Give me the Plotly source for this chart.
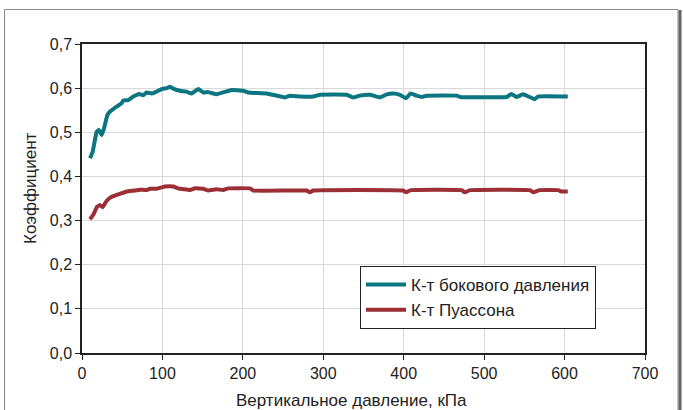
import plotly.graph_objects as go

# Data
x_lat = [10, 13.3, 18.2, 21, 24.4, 27.4, 31.5, 34.8, 43, 49.3, 51.4, 57.6, 63.8, 71.3, 76.3, 80.4,
         86.6, 92.8, 99, 105.3, 109.4, 115.6, 121.8, 130, 136.3, 144.6, 150.8, 157, 167.4, 186,
         200.5, 206.8, 229.6, 252.4, 258.6, 271, 287.6, 296, 329, 337, 345, 358, 370.5, 378.8,
         387, 395.4, 403, 408.6, 416, 422.4, 428.5, 466, 470, 528, 534, 540, 548.6, 554.8, 563,
         567, 604]
y_lat = [0.441, 0.456, 0.501, 0.505, 0.494, 0.509, 0.539, 0.547, 0.558, 0.566, 0.572, 0.573, 0.581,
         0.587, 0.584, 0.590, 0.588, 0.592, 0.598, 0.600, 0.603, 0.597, 0.594, 0.592, 0.588, 0.598,
         0.590, 0.591, 0.586, 0.596, 0.594, 0.590, 0.588, 0.579, 0.583, 0.581, 0.581, 0.585, 0.585,
         0.579, 0.583, 0.585, 0.579, 0.586, 0.588, 0.585, 0.577, 0.588, 0.583, 0.580, 0.583, 0.583,
         0.580, 0.580, 0.587, 0.580, 0.586, 0.581, 0.575, 0.581, 0.581]

x_poi = [10, 14, 19, 22.4, 25.7, 30.7, 36.9, 43, 49.3, 55.5, 65.9, 72, 80.4, 84.5, 92.8, 103.2,
         113.5, 119.7, 134.3, 140.5, 150.8, 157, 167, 175.5, 181.9, 208.9, 213, 279, 283.5, 287.5,
         399, 403, 408.6, 472, 476, 482.4, 557, 561, 569, 592, 596, 604]
y_poi = [0.303, 0.313, 0.332, 0.335, 0.330, 0.345, 0.354, 0.358, 0.362, 0.366, 0.368, 0.370, 0.369,
         0.372, 0.372, 0.377, 0.377, 0.373, 0.369, 0.373, 0.372, 0.368, 0.371, 0.369, 0.373, 0.373,
         0.368, 0.368, 0.364, 0.368, 0.368, 0.364, 0.369, 0.369, 0.364, 0.369, 0.369, 0.364, 0.369,
         0.369, 0.366, 0.366]

names = ["К-т бокового давления", "К-т Пуассона"]
x_title = "Вертикальное давление, кПа"
y_title = "Коэффициент"
x_ticks = [0, 100, 200, 300, 400, 500, 600, 700]
y_ticks = [0.0, 0.1, 0.2, 0.3, 0.4, 0.5, 0.6, 0.7]

FONT = "Liberation Sans, Arial, sans-serif"

fig = go.Figure()
fig.add_trace(go.Scatter(x=x_lat, y=y_lat, mode="lines", name=names[0],
                         line=dict(color="#0b7580", width=4, shape="spline", smoothing=0.3)))
fig.add_trace(go.Scatter(x=x_poi, y=y_poi, mode="lines", name=names[1],
                         line=dict(color="#9c2e36", width=4, shape="spline", smoothing=0.3)))

W, H = 683, 410
ml, mr, mt, mb = 82, 38, 44, 57
pw, ph = W - ml - mr, H - mt - mb

def px(xp):
    return (xp - ml) / pw

def py(yp):
    return (H - mb - yp) / ph

fig.update_layout(
    width=W, height=H,
    margin=dict(l=ml, r=mr, t=mt, b=mb),
    paper_bgcolor="white", plot_bgcolor="white",
    separators=", ",
    font=dict(family=FONT, size=16, color="#222"),
    showlegend=True,
    legend=dict(x=px(360), y=py(266), xanchor="left", yanchor="top",
                bordercolor="#222", borderwidth=1, bgcolor="white",
                font=dict(size=17, family=FONT, color="#222"),
                tracegroupgap=0, itemwidth=40),
    xaxis=dict(range=[0, 700], tickvals=x_ticks, showgrid=True, gridcolor="#d9d9d9",
               showline=True, linecolor="#222", linewidth=1.5, mirror=True,
               ticks="outside", ticklen=5, tickcolor="#222", zeroline=False,
               tickfont=dict(size=16)),
    yaxis=dict(range=[0, 0.7], tickvals=y_ticks, tickformat=".1f", showgrid=True,
               gridcolor="#d9d9d9", showline=True, linecolor="#222", linewidth=1.5,
               mirror=True, ticks="outside", ticklen=5, tickcolor="#222", zeroline=False,
               tickfont=dict(size=16)),
    annotations=[
        dict(text=x_title, xref="paper", yref="paper", x=px(351), y=py(400),
             xanchor="center", yanchor="middle", showarrow=False,
             font=dict(size=17, family=FONT, color="#222")),
        dict(text=y_title, xref="paper", yref="paper", x=px(30), y=py(188),
             xanchor="center", yanchor="middle", showarrow=False, textangle=-90,
             font=dict(size=17, family=FONT, color="#222")),
    ],
    shapes=[
        dict(type="rect", xref="paper", yref="paper", x0=px(4.5), x1=px(678), y0=py(420), y1=py(9.5),
             line=dict(color="#8a8a8a", width=1), layer="below"),
        dict(type="line", xref="paper", yref="paper", x0=px(680), x1=px(680), y0=py(420), y1=py(10),
             line=dict(color="#666", width=3), layer="below"),
    ],
)

fig.write_html("out.html")
